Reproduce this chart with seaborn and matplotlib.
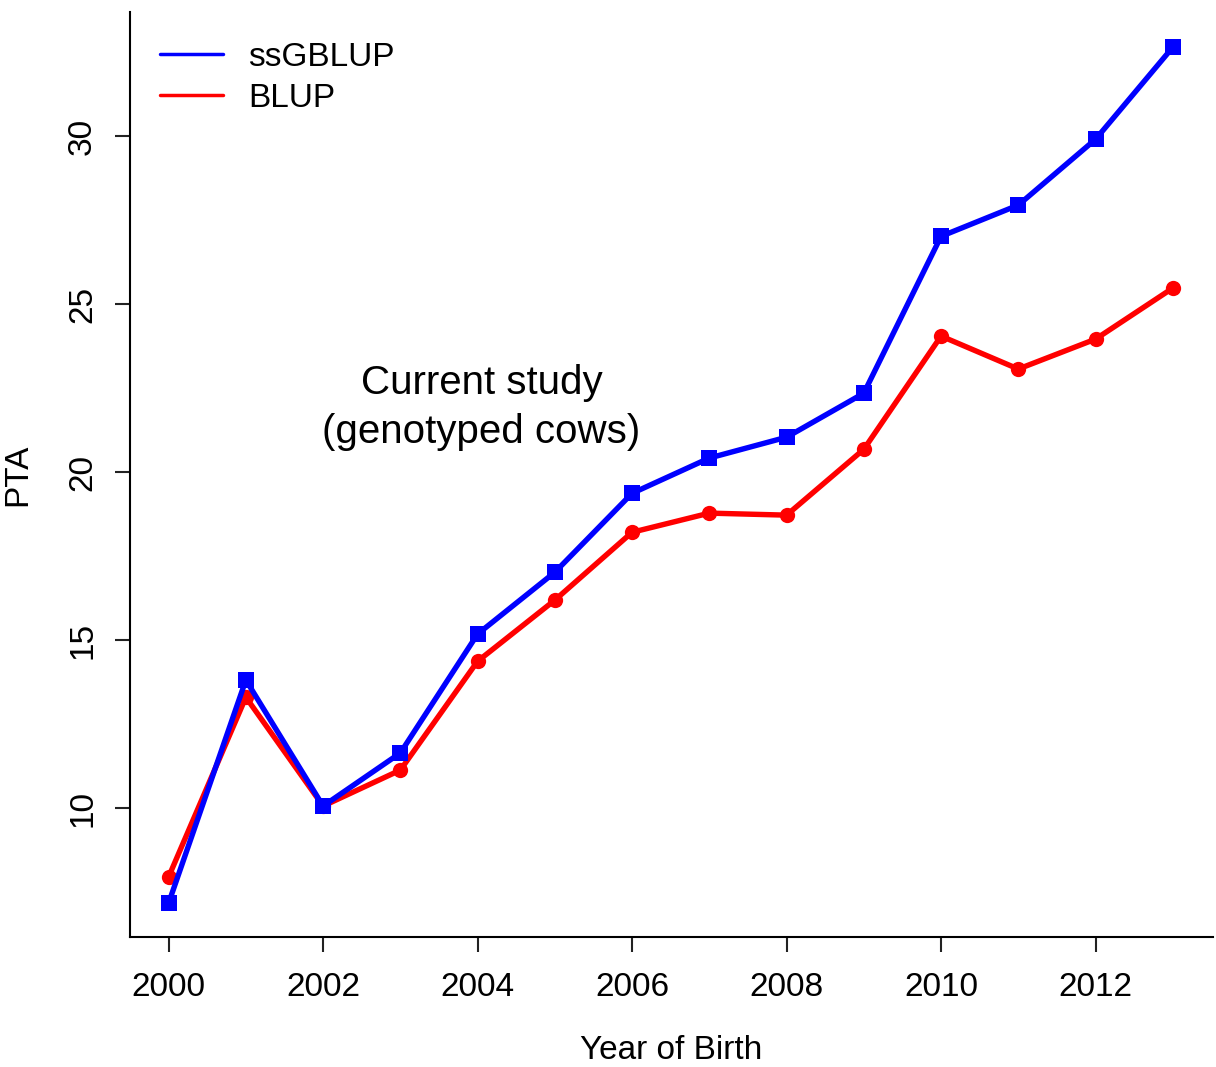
import matplotlib
matplotlib.use("Agg")
import matplotlib.pyplot as plt
from matplotlib.lines import Line2D
import numpy as np
import pandas as pd
import seaborn as sns

years = list(range(2000, 2014))
ssgblup = [7.17, 13.81, 10.06, 11.64, 15.18, 17.02, 19.37, 20.42, 21.04, 22.35, 27.02, 27.95, 29.91, 32.65]
blup = [7.95, 13.30, 10.06, 11.13, 14.37, 16.19, 18.21, 18.78, 18.72, 20.68, 24.05, 23.07, 23.96, 25.48]
series_names = ["ssGBLUP", "BLUP"]
series_colors = {"ssGBLUP": "#0000ff", "BLUP": "#ff0000"}
x_ticks = [2000, 2002, 2004, 2006, 2008, 2010, 2012]
y_ticks = [10, 15, 20, 25, 30]

df = pd.DataFrame({
    "Year": years * 2,
    "PTA": ssgblup + blup,
    "Method": ["ssGBLUP"] * len(years) + ["BLUP"] * len(years),
})

sns.set_theme(style="white")
plt.rcParams["font.family"] = ["Liberation Sans", "DejaVu Sans"]
plt.rcParams["text.color"] = "black"
plt.rcParams["axes.labelcolor"] = "black"
plt.rcParams["xtick.color"] = "black"
plt.rcParams["ytick.color"] = "black"

fig = plt.figure(figsize=(12.16, 10.67), dpi=100)
ax = fig.add_axes([0.1069, 0.1218, 0.8906, 0.8670])

# BLUP first so the ssGBLUP line sits on top
sns.lineplot(data=df[df.Method == "BLUP"], x="Year", y="PTA", color=series_colors["BLUP"],
             marker="o", markersize=11, markeredgewidth=0, linewidth=3.9, ax=ax, legend=False)
sns.lineplot(data=df[df.Method == "ssGBLUP"], x="Year", y="PTA", color=series_colors["ssGBLUP"],
             marker="s", markersize=12, markeredgewidth=0, linewidth=3.9, ax=ax, legend=False)

ax.set_xlim(1999.5, 2013.52)
ax.set_ylim(6.16, 33.7)
ax.set_xticks(x_ticks)
ax.set_yticks(y_ticks)
ax.set_xticklabels([str(t) for t in x_ticks], fontsize=24)
ax.set_yticklabels([str(t) for t in y_ticks], fontsize=24, rotation=90, va="center")

for side in ["top", "right"]:
    ax.spines[side].set_visible(False)
for side in ["left", "bottom"]:
    ax.spines[side].set_visible(True)
    ax.spines[side].set_color("black")
    ax.spines[side].set_linewidth(1.5)

ax.tick_params(axis="both", which="major", direction="out", length=11, width=1.5,
               color="#222222", left=True, bottom=True, pad=14)
ax.tick_params(axis="y", pad=12)

ax.set_xlabel("Year of Birth", fontsize=24, labelpad=23)
ax.set_ylabel("PTA", fontsize=24, labelpad=24)

ax.text(2004.05, 21.93, "Current study\n(genotyped cows)", fontsize=29, ha="center", va="center",
        linespacing=1.35)

handles = [Line2D([0], [0], color=series_colors[n], linewidth=2.5) for n in series_names]
ax.legend(handles, series_names, loc="upper left", bbox_to_anchor=(0.0, 1.0), frameon=False,
          fontsize=24, handlelength=1.9, handletextpad=0.75, labelspacing=0.3, borderaxespad=0.5)

fig.savefig("out.png", dpi=100, facecolor="white")
